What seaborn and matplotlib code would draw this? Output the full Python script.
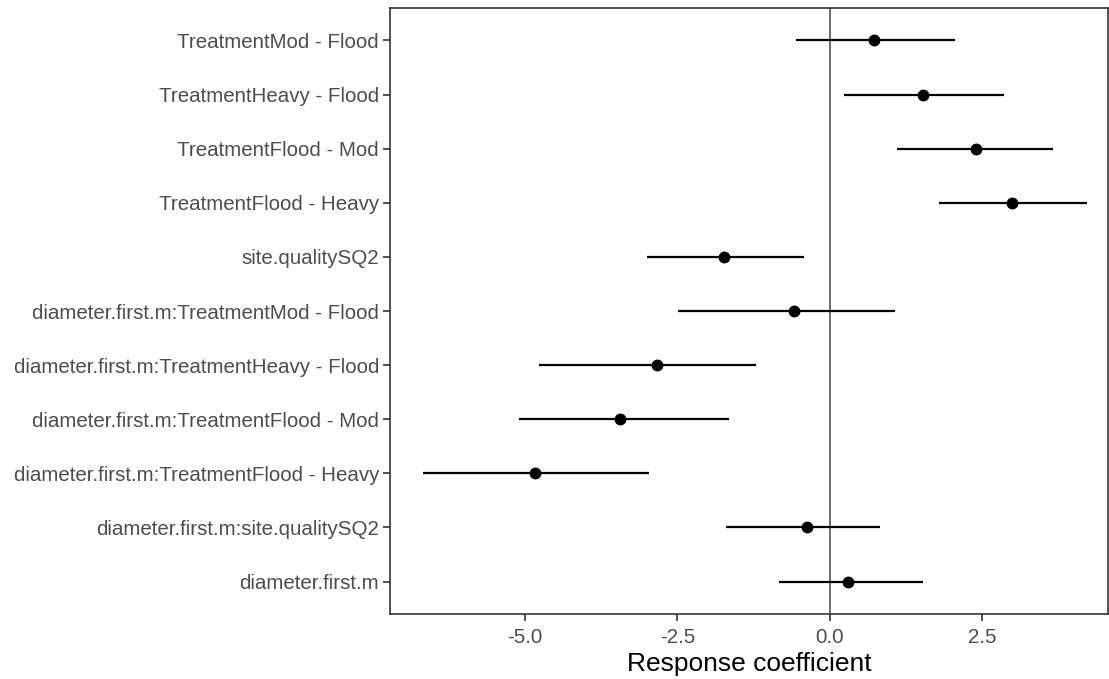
import numpy as np
import pandas as pd
import seaborn as sns
import matplotlib.pyplot as plt

# Coefficient estimates and intervals, top to bottom as shown
terms = [
    'TreatmentMod - Flood',
    'TreatmentHeavy - Flood',
    'TreatmentFlood - Mod',
    'TreatmentFlood - Heavy',
    'site.qualitySQ2',
    'diameter.first.m:TreatmentMod - Flood',
    'diameter.first.m:TreatmentHeavy - Flood',
    'diameter.first.m:TreatmentFlood - Mod',
    'diameter.first.m:TreatmentFlood - Heavy',
    'diameter.first.m:site.qualitySQ2',
    'diameter.first.m',
]
estimate = [0.73, 1.52, 2.40, 2.98, -1.73, -0.58, -2.83, -3.44, -4.83, -0.38, 0.29]
lower = [-0.56, 0.24, 1.10, 1.79, -3.00, -2.49, -4.77, -5.09, -6.67, -1.70, -0.83]
upper = [2.05, 2.86, 3.66, 4.21, -0.43, 1.07, -1.21, -1.65, -2.96, 0.82, 1.52]
xtick_values = [-5.0, -2.5, 0.0, 2.5]

df = pd.DataFrame({'term': terms, 'estimate': estimate, 'lower': lower, 'upper': upper})

sns.set_theme(style='white')
plt.rcParams['font.family'] = ['Liberation Sans', 'DejaVu Sans']

fig = plt.figure(figsize=(11.09, 6.79), dpi=100)
ax = fig.add_axes([390 / 1109, 1 - 614 / 679, 718 / 1109, 606 / 679])

# reference line at zero
ax.axvline(0, color='#555555', lw=1.2, zorder=1)

# interval lines
ax.hlines(y=np.arange(len(df)), xmin=df['lower'], xmax=df['upper'], color='black', lw=1.6, zorder=2)

sns.pointplot(data=df, x='estimate', y='term', order=terms, linestyle='none',
              errorbar=None, color='black', markersize=6.5, ax=ax, zorder=3)

ax.set_xlim(-7.21, 4.56)
ax.set_ylim(len(df) - 1 + 0.6, -0.6)
ax.set_xticks(xtick_values)
ax.set_xticklabels([f'{v:.1f}' for v in xtick_values])
ax.set_xlabel('Response coefficient', fontsize=19, color='black', labelpad=4)
ax.set_ylabel('')

ax.tick_params(axis='both', which='both', length=5, width=1.2, color='#333333',
               labelsize=14.8, labelcolor='#4D4D4D', pad=3, bottom=True, left=True)
ax.tick_params(axis='x', pad=5)
for s in ax.spines.values():
    s.set_visible(True)
    s.set_color('#333333')
    s.set_linewidth(1.2)

plt.savefig('out.png', dpi=100)
